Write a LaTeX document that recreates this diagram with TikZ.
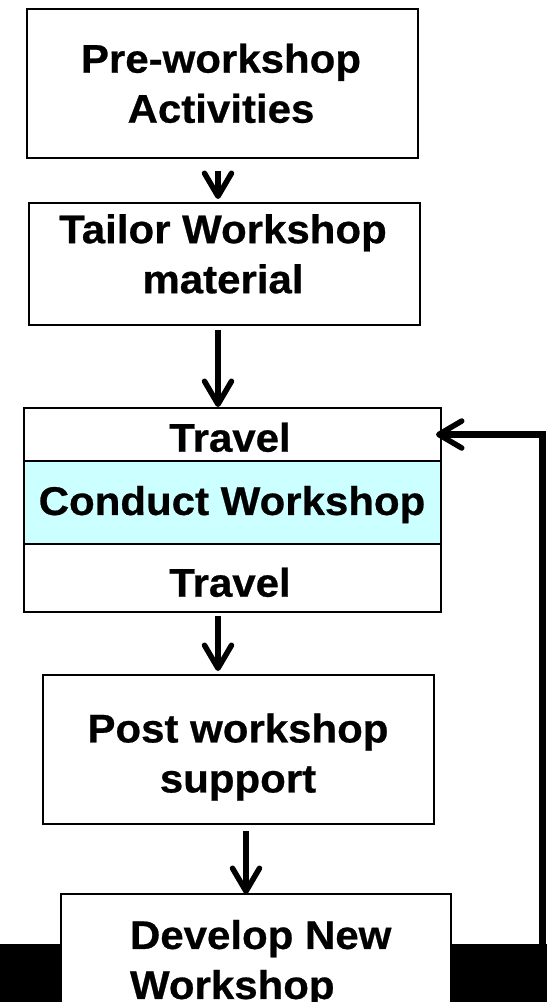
\documentclass[tikz,border=0pt]{standalone}
\usepackage{fontspec}
\setmainfont{Liberation Sans}
\newfontfamily\boxfont[FakeStretch=1.05,FakeBold=0.6]{Liberation Sans}
\usetikzlibrary{arrows.meta}
\definecolor{workshopcyan}{HTML}{CCFFFF}
\begin{document}
\begin{tikzpicture}[x=1pt,y=-1pt,
  box/.style={draw=black, line width=2.2pt, fill=white, rectangle,
    inner sep=0pt, outer sep=0pt},
  boxtext/.style={inner sep=0pt, outer sep=0pt, align=center,
    font=\boxfont\bfseries\fontsize{40}{50}\selectfont},
  flow/.style={line width=5.5pt,
    -{Straight Barb[length=23pt,width=27pt,line width=5.5pt,round]}},
  ]
  % page
  \fill[white] (0,0) rectangle (547,1002);
  \useasboundingbox (0,0) rectangle (547,1002);

  % process boxes
  \node[box, minimum width=391pt, minimum height=149pt] (pre) at (222.5,83.5) {};
  \node[box, minimum width=391pt, minimum height=122pt] (tailor) at (224.5,264) {};
  \node[box, minimum width=417pt, minimum height=53pt] (trtop) at (232.5,434.5) {};
  \node[box, fill=workshopcyan, minimum width=417pt, minimum height=83pt] (conduct) at (232.5,502.5) {};
  \node[box, minimum width=417pt, minimum height=68pt] (trbot) at (232.5,578) {};
  \node[box, minimum width=391pt, minimum height=149pt] (post) at (238.5,749.5) {};

  % dark band along the foot
  \fill[black] (0,944) rectangle (547,1002);
  \node[box, minimum width=390pt, minimum height=130pt, anchor=north] (develop) at (256,894) {};

  % box texts
  \node[boxtext] (pretxt) at (221,83.4) {Pre-workshop\\Activities};
  \node[boxtext] (tailortxt) at (223,253.9) {Tailor Workshop\\material};
  \node[boxtext] (trtoptxt) at (230,437.4) {Travel};
  \node[boxtext] (conducttxt) at (232,504.6) {Conduct Workshop};
  \node[boxtext] (trbottxt) at (230,582.4) {Travel};
  \node[boxtext] (posttxt) at (238,757.1) {Post workshop\\support};
  \node[boxtext, align=left, anchor=west] (developtxt) at (130,963.6) {Develop New\\Workshop};

  % flow arrows
  \draw[flow, shorten <=13pt, shorten >=4pt] ([xshift=-4.5pt]pre.south) -- ([xshift=-6.5pt]tailor.north);
  \draw[flow, shorten <=5pt, shorten >=1pt] ([xshift=-6.5pt]tailor.south) -- ([xshift=-14.5pt]trtop.north);
  \draw[flow, shorten <=4pt, shorten >=4pt] ([xshift=-14.5pt]trbot.south) -- ([xshift=-20.5pt]post.north);
  \draw[flow, shorten <=7pt] ([xshift=7.5pt]post.south) -- ([xshift=-10pt]develop.north);

  % feedback loop back to the travel leg
  \coordinate (loopfoot) at (542.5,950);
  \draw[flow, line width=6.5pt, line join=miter, shorten >=-5pt] (loopfoot) |- (trtop.east);
\end{tikzpicture}
\end{document}
